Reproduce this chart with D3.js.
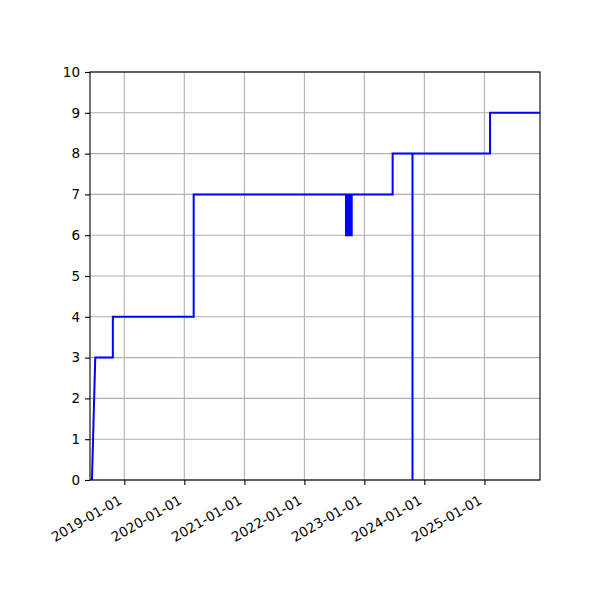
<!DOCTYPE html>
<html>
<head>
<meta charset="utf-8">
<script src="https://cdn.jsdelivr.net/npm/d3@7"></script>
<style>
  body { margin: 0; background: #fff; }
  text { font-family: "DejaVu Sans", sans-serif; }
</style>
</head>
<body>
<div id="chart"></div>
<script>
// step series, one entry per drawn vertex
const dates = [
  "2018-06-18", "2018-07-08", "2018-10-23", "2018-10-23",
  "2020-02-27", "2020-02-27",
  "2022-09-11", "2022-09-11", "2022-09-14", "2022-09-14", "2022-09-17", "2022-09-17",
  "2022-09-20", "2022-09-20", "2022-09-23", "2022-09-23", "2022-09-26", "2022-09-26",
  "2022-09-29", "2022-09-29", "2022-10-02", "2022-10-02", "2022-10-05", "2022-10-05",
  "2022-10-08", "2022-10-08", "2022-10-12", "2022-10-12", "2022-10-16", "2022-10-16",
  "2023-06-22", "2023-06-22",
  "2023-10-21", "2023-10-21", "2023-10-21",
  "2025-02-04", "2025-02-04", "2025-12-31"
];
const values = [
  0, 3, 3, 4,
  4, 7,
  7, 6, 6, 7, 7, 6,
  6, 7, 7, 6, 6, 7,
  7, 6, 6, 7, 7, 6,
  6, 7, 7, 6, 6, 7,
  7, 8,
  8, 0, 8,
  8, 9, 9
];

const xDomain = ["2018-06-06", "2025-12-05"];
const yTicks = [0, 1, 2, 3, 4, 5, 6, 7, 8, 9, 10];
const xTickDates = ["2019-01-01", "2020-01-01", "2021-01-01", "2022-01-01", "2023-01-01", "2024-01-01", "2025-01-01"];

const parse = d3.timeParse("%Y-%m-%d");
const fmt = d3.timeFormat("%Y-%m-%d");
const data = dates.map((d, i) => ({ date: parse(d), value: values[i] }));

const width = 600, height = 600;
const margin = { top: 72, right: 60, bottom: 120, left: 90 };

const svg = d3.select("#chart").append("svg")
  .attr("width", width)
  .attr("height", height);

const x = d3.scaleTime()
  .domain(xDomain.map(parse))
  .range([margin.left, width - margin.right]);

const y = d3.scaleLinear()
  .domain([0, 10])
  .range([height - margin.bottom, margin.top]);

// grid
svg.append("g")
  .selectAll("line")
  .data(xTickDates.map(parse))
  .join("line")
  .attr("x1", d => x(d)).attr("x2", d => x(d))
  .attr("y1", margin.top).attr("y2", height - margin.bottom)
  .attr("stroke", "#b0b0b0").attr("stroke-width", 1.1);

svg.append("g")
  .selectAll("line")
  .data(yTicks)
  .join("line")
  .attr("x1", margin.left).attr("x2", width - margin.right)
  .attr("y1", d => y(d)).attr("y2", d => y(d))
  .attr("stroke", "#b0b0b0").attr("stroke-width", 1.1);

// line
svg.append("clipPath").attr("id", "clip")
  .append("rect")
  .attr("x", margin.left).attr("y", margin.top)
  .attr("width", width - margin.left - margin.right)
  .attr("height", height - margin.top - margin.bottom);

svg.append("path")
  .datum(data)
  .attr("clip-path", "url(#clip)")
  .attr("fill", "none")
  .attr("stroke", "#0000ff")
  .attr("stroke-width", 2)
  .attr("stroke-linejoin", "miter")
  .attr("d", d3.line().x(d => x(d.date)).y(d => y(d.value)));

// axes
const xAxis = svg.append("g")
  .attr("transform", `translate(0,${height - margin.bottom})`)
  .call(d3.axisBottom(x).tickValues(xTickDates.map(parse)).tickFormat(fmt).tickSizeInner(5).tickSizeOuter(0).tickPadding(5));
xAxis.select(".domain").remove();
xAxis.selectAll("line").attr("stroke-width", 1.1);
xAxis.selectAll("text")
  .attr("font-size", "13.5px")
  .attr("fill", "#000")
  .attr("text-anchor", "end")
  .attr("dy", null)
  .attr("y", null)
  .attr("transform", "translate(-2,23) rotate(-30)");

const yAxis = svg.append("g")
  .attr("transform", `translate(${margin.left},0)`)
  .call(d3.axisLeft(y).tickValues(yTicks).tickSizeInner(5).tickSizeOuter(0).tickPadding(5));
yAxis.select(".domain").remove();
yAxis.selectAll("line").attr("stroke-width", 1.1);
yAxis.selectAll("text").attr("font-size", "13.5px").attr("fill", "#000");

// frame
svg.append("rect")
  .attr("x", margin.left).attr("y", margin.top)
  .attr("width", width - margin.left - margin.right)
  .attr("height", height - margin.top - margin.bottom)
  .attr("fill", "none")
  .attr("stroke", "#000")
  .attr("stroke-width", 1.1);
</script>
</body>
</html>
